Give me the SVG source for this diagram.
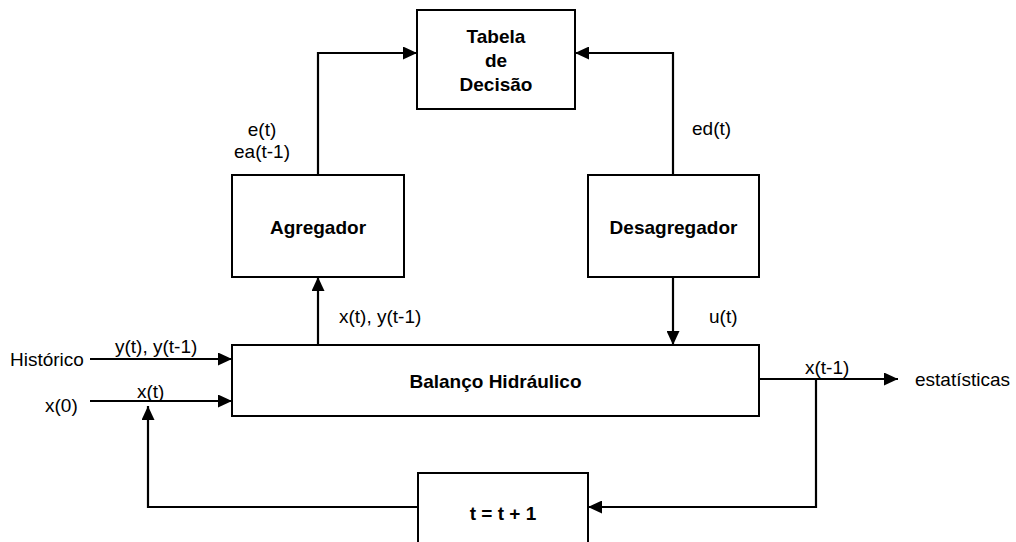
<svg xmlns="http://www.w3.org/2000/svg" width="1016" height="542" viewBox="0 0 1016 542">
  <style>
    .box { fill: #fff; stroke: #000; stroke-width: 2; }
    .wire { fill: none; stroke: #000; stroke-width: 2.2; }
    .lbl { font-family: "Liberation Sans", Arial, sans-serif; font-size: 19px; fill: #000; }
    .b { font-weight: bold; text-anchor: middle; }
  </style>
  <defs>
    <marker id="arrow" viewBox="0 0 14 13" refX="14" refY="6.5" markerWidth="14" markerHeight="13" markerUnits="userSpaceOnUse" orient="auto">
      <path d="M0,0 L14,6.5 L0,13 Z" fill="#000"/>
    </marker>
  </defs>
  <rect width="1016" height="542" fill="#fff"/>

  <!-- blocks -->
  <g id="tabela">
    <rect class="box" x="417" y="10" width="158" height="99"/>
    <text class="lbl b" x="496" y="43">Tabela</text>
    <text class="lbl b" x="496" y="67">de</text>
    <text class="lbl b" x="496" y="91">Decisão</text>
  </g>
  <g id="agregador">
    <rect class="box" x="232" y="175" width="172" height="102"/>
    <text class="lbl b" x="318" y="234">Agregador</text>
  </g>
  <g id="desagregador">
    <rect class="box" x="588" y="175" width="171" height="102"/>
    <text class="lbl b" x="673.5" y="234">Desagregador</text>
  </g>
  <g id="balanco">
    <rect class="box" x="232" y="345" width="527" height="71"/>
    <text class="lbl b" x="495.5" y="388">Balanço Hidráulico</text>
  </g>
  <g id="incremento">
    <rect class="box" x="418" y="473" width="170" height="90"/>
    <text class="lbl b" x="503" y="520">t = t + 1</text>
  </g>

  <!-- connectors -->
  <g id="connectors">
    <path class="wire" d="M318,175 V53 H417" marker-end="url(#arrow)"/>
    <path class="wire" d="M673,175 V53 H575" marker-end="url(#arrow)"/>
    <path class="wire" d="M318,345 V277" marker-end="url(#arrow)"/>
    <path class="wire" d="M673,277 V345" marker-end="url(#arrow)"/>
    <path class="wire" d="M90,359 H232" marker-end="url(#arrow)"/>
    <path class="wire" d="M90,401 H232" marker-end="url(#arrow)"/>
    <path class="wire" d="M759,379 H898" marker-end="url(#arrow)"/>
    <path class="wire" d="M816,379 V507 H588" marker-end="url(#arrow)"/>
    <path class="wire" d="M418,507 H148 V406" marker-end="url(#arrow)"/>
  </g>

  <!-- signal labels -->
  <g id="labels">
    <text class="lbl" x="262" y="136" text-anchor="middle">e(t)</text>
    <text class="lbl" x="262" y="158" text-anchor="middle">ea(t-1)</text>
    <text class="lbl" x="692" y="135">ed(t)</text>
    <text class="lbl" x="339" y="323">x(t), y(t-1)</text>
    <text class="lbl" x="709" y="323">u(t)</text>
    <text class="lbl" x="10" y="366">Histórico</text>
    <text class="lbl" x="115" y="353">y(t), y(t-1)</text>
    <text class="lbl" x="45" y="412">x(0)</text>
    <text class="lbl" x="137" y="398">x(t)</text>
    <text class="lbl" x="805" y="374">x(t-1)</text>
    <text class="lbl" x="915" y="386">estatísticas</text>
  </g>
</svg>
